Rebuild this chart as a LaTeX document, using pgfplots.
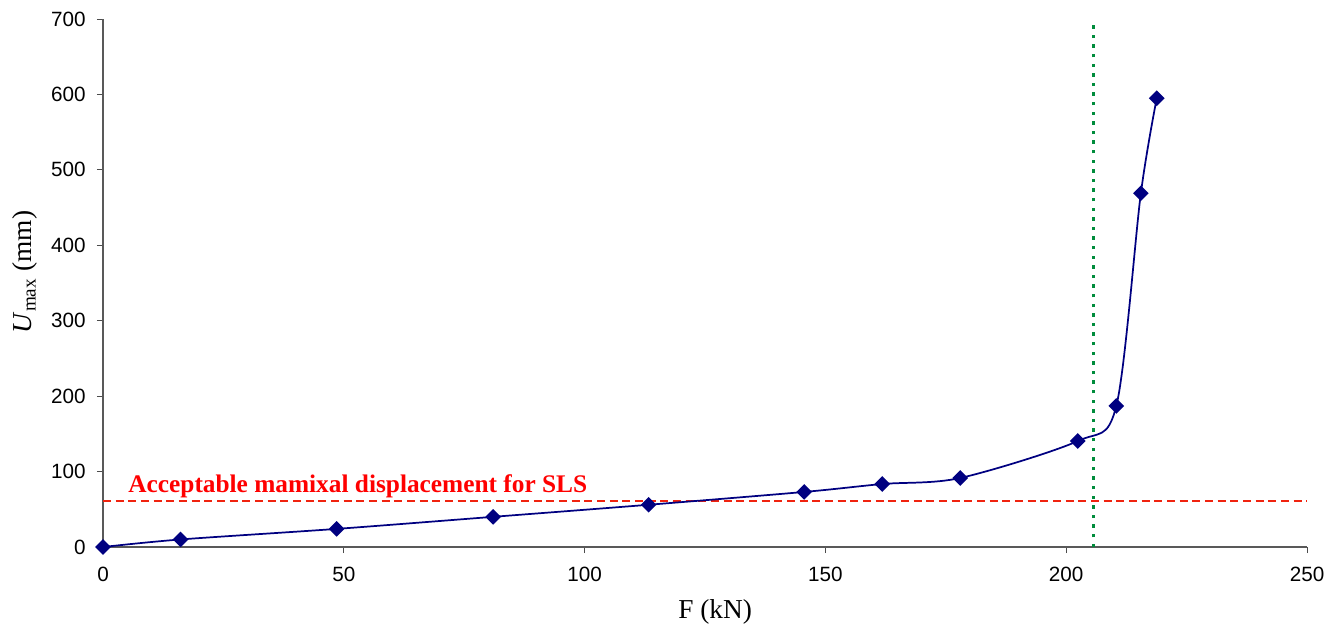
\documentclass[border=0pt]{standalone}
\usepackage{pgfplots}
\pgfplotsset{compat=1.18}
\usepackage{fontspec}
\setmainfont{Liberation Serif}
\newfontfamily\arial{Liberation Sans}
\definecolor{navyline}{RGB}{0,0,128}
\definecolor{sls}{RGB}{240,35,15}
\definecolor{vgreen}{RGB}{0,140,60}
\begin{document}
\begin{tikzpicture}
\path[use as bounding box] (-77.25pt,-63.75pt) rectangle (928.5pt,410.25pt);
\begin{axis}[
  at={(0pt,0pt)}, anchor=south west,
  scale only axis, width=903pt, height=396pt,
  xmin=0, xmax=250, ymin=0, ymax=700,
  axis x line*=bottom, axis y line*=left,
  axis line style={draw=gray!70!black, line width=0.8pt},
  tick align=outside, major tick length=4.5pt,
  tick style={draw=gray!60!black, line width=0.7pt},
  xtick={0,50,...,250}, ytick={0,100,...,700},
  ticklabel style={font=\arial\fontsize{15.5}{18}\selectfont},
  /pgf/number format/assume math mode=true,
  xticklabel style={yshift=-7pt},
  yticklabel style={xshift=-5pt},
  clip=false,
]
\addplot[sls, line width=1.5pt, dash pattern=on 6pt off 3.5pt] coordinates {(0,61) (250,61)};
\addplot[vgreen, line width=2pt, dash pattern=on 2.6pt off 4.6pt] coordinates {(205.6,0) (205.6,700)};
\addplot[navyline, line width=1.3pt, smooth, tension=0.5, mark=square*, mark size=3.5pt,
  mark options={rotate=45, solid, fill=navyline}] coordinates {
(0,0)
(16.1,10)
(48.5,24)
(81.0,40)
(113.3,56)
(145.6,73)
(161.8,83.5)
(178.0,91.5)
(202.4,140.5)
(210.4,187)
(215.5,469)
(218.8,595)
};
\node[text=red, font=\bfseries\fontsize{19}{22}\selectfont, anchor=base] at (axis cs:52.9,71.6) {Acceptable mamixal displacement for SLS};
\node[font=\fontsize{20.5}{24}\selectfont] at (axis cs:127.1,-86.2) {F (kN)};
\node[rotate=90, font=\fontsize{20.5}{24}\selectfont] at (axis cs:-16.2,364.6) {\textit{U}\textsubscript{max} (mm)};
\end{axis}
\end{tikzpicture}
\end{document}
